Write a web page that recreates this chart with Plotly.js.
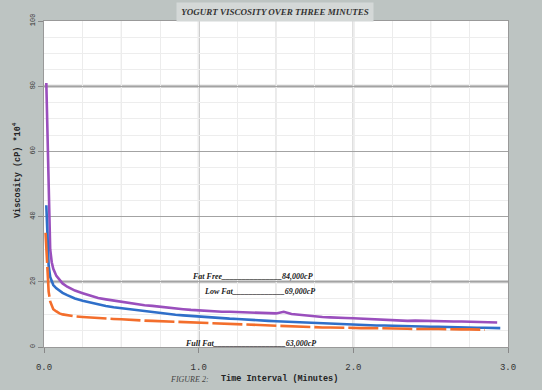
<!DOCTYPE html>
<html>
<head>
<meta charset="utf-8">
<script src="https://cdn.plot.ly/plotly-3.0.1.min.js"></script>
<style>html,body{margin:0;padding:0;background:#bdc4c2;}#chart{width:542px;height:390px;}</style>
</head>
<body>
<div id="chart"></div>
<script>
// Fat Free (purple)
const fatFreeTime = [0.015,0.02,0.025,0.03,0.04,0.05,0.06,0.08,0.1,0.12,0.15,0.2,0.25,0.3,0.35,0.4,0.45,0.5,0.55,0.6,0.65,0.7,0.75,0.8,0.85,0.9,0.95,1.0,1.05,1.1,1.15,1.2,1.25,1.3,1.35,1.4,1.45,1.5,1.55,1.58,1.6,1.65,1.7,1.75,1.8,1.85,1.9,1.95,2.0,2.05,2.1,2.15,2.2,2.25,2.3,2.35,2.4,2.45,2.5,2.55,2.6,2.65,2.7,2.75,2.8,2.85,2.9,2.93];
const fatFreeVisc = [81,70,55,42,30,26,24,21.8,20.5,19.5,18.5,17.3,16.5,15.8,15.0,14.6,14.2,13.8,13.4,13.0,12.8,12.6,12.3,12.1,11.8,11.6,11.4,11.2,11.1,11.0,10.8,10.8,10.7,10.6,10.5,10.4,10.4,10.3,10.8,10.4,10.1,9.9,9.6,9.4,9.2,9.1,8.9,8.9,8.8,8.7,8.5,8.3,8.2,8.2,8.1,8.0,8.1,8.0,7.9,7.8,7.9,7.8,7.8,7.7,7.8,7.6,7.6,7.5];

// Low Fat (blue)
const lowFatTime = [0.015,0.02,0.025,0.03,0.04,0.05,0.06,0.08,0.1,0.12,0.15,0.2,0.25,0.3,0.35,0.4,0.45,0.5,0.55,0.6,0.65,0.7,0.75,0.8,0.85,0.9,0.95,1.0,1.05,1.1,1.15,1.2,1.25,1.3,1.35,1.4,1.45,1.5,1.55,1.6,1.65,1.7,1.75,1.8,1.85,1.9,1.95,2.0,2.05,2.1,2.15,2.2,2.25,2.3,2.35,2.4,2.45,2.5,2.55,2.6,2.65,2.7,2.75,2.8,2.85,2.9,2.95];
const lowFatVisc = [43.5,36,30,25,21.5,20,19,18,17.2,16.6,15.9,14.9,14.2,13.6,13.0,12.6,12.2,11.9,11.5,11.2,10.9,10.6,10.4,10.1,9.9,9.7,9.5,9.3,9.2,9.0,8.9,8.7,8.6,8.4,8.3,8.2,8.0,7.9,7.8,7.6,7.4,7.3,7.2,7.1,7.0,7.0,6.9,6.8,6.8,6.7,6.6,6.6,6.5,6.4,6.4,6.3,6.3,6.2,6.2,6.1,6.1,6.0,6.0,5.9,5.9,5.8,5.8];

// Full Fat (orange)
const fullFatTime = [0.01,0.015,0.02,0.025,0.03,0.04,0.05,0.06,0.08,0.1,0.12,0.15,0.2,0.25,0.3,0.35,0.4,0.45,0.5,0.55,0.6,0.65,0.7,0.75,0.8,0.85,0.9,0.95,1.0,1.05,1.1,1.15,1.2,1.25,1.3,1.35,1.4,1.45,1.5,1.55,1.6,1.65,1.7,1.75,1.8,1.85,1.9,1.95,2.0,2.05,2.1,2.15,2.2,2.25,2.3,2.35,2.4,2.45,2.5,2.55,2.6,2.65,2.7,2.75,2.8,2.85];
const fullFatVisc = [35,30,24,20,17,14,12.5,11.6,10.9,10.3,10.0,9.7,9.4,9.2,9.0,8.9,8.8,8.6,8.5,8.3,8.2,8.1,8.0,7.9,7.8,7.7,7.6,7.5,7.4,7.4,7.3,7.3,7.2,7.1,7.0,6.9,6.8,6.7,6.6,6.5,6.4,6.3,6.2,6.1,6.0,6.0,5.9,5.9,5.8,5.8,5.8,5.8,5.7,5.7,5.6,5.6,5.5,5.6,5.5,5.5,5.4,5.5,5.4,5.4,5.4,5.3];

const xTickVals = [0,1,2,3];
const xTickText = ["0.0","1.0","2.0","3.0"];
const yTickVals = [0,20,40,60,80,100];
const yTickText = ["0","20","40","60","80","100"];

const titleText = "YOGURT VISCOSITY OVER THREE MINUTES";
const labels = [
  {text:"Fat Free_______________84,000cP", x:0.944, y:21.5},
  {text:"Low Fat_____________69,000cP", x:1.02, y:16.9},
  {text:"Full Fat__________________63,000cP", x:0.90, y:1.2}
];

const serif = "Liberation Serif, serif";
const mono = "Liberation Mono, DejaVu Sans Mono, monospace";

const traces = [
  {x:fatFreeTime, y:fatFreeVisc, type:'scatter', mode:'lines', name:'Fat Free',
   line:{color:'#9a4fbd', width:2.6}},
  {x:lowFatTime, y:lowFatVisc, type:'scatter', mode:'lines', name:'Low Fat',
   line:{color:'#2f6fc9', width:2.6}},
  {x:fullFatTime, y:fullFatVisc, type:'scatter', mode:'lines', name:'Full Fat',
   line:{color:'#f36e2c', width:2.6, dash:'30px,4px'}}
];

const annotations = labels.map(l => ({
  text:l.text, x:l.x, y:l.y, xref:'x', yref:'y', xanchor:'left', yanchor:'middle',
  showarrow:false, font:{family:serif, size:8, style:'italic', weight:'bold', color:'#222'}
}));
annotations.push({
  text:titleText, xref:'paper', yref:'paper', x:(275-44)/464, y:1, yshift:9,
  xanchor:'center', yanchor:'middle', showarrow:false, bgcolor:'#d4d8d7',
  width:194, height:16, font:{family:serif, size:9, style:'italic', weight:'bold', color:'#333'}
});
annotations.push({
  text:'FIGURE 2:', xref:'paper', yref:'paper', x:(189-44)/464, y:0, yshift:-32,
  xanchor:'center', yanchor:'middle', showarrow:false,
  font:{family:serif, size:8, style:'italic', color:'#444'}
});
annotations.push({
  text:'<b>Time Interval (Minutes)</b>', xref:'paper', yref:'paper', x:(279-44)/464, y:0, yshift:-32,
  xanchor:'center', yanchor:'middle', showarrow:false,
  font:{family:mono, size:8.5, color:'#222'}
});
annotations.push({
  text:'<b>Viscosity (cP) *10<sup>4</sup></b>', xref:'paper', yref:'paper', x:0, xshift:-27, y:(347-170)/326,
  xanchor:'center', yanchor:'middle', showarrow:false, textangle:-90,
  font:{family:mono, size:8.5, color:'#222'}
});

const layout = {
  width:542, height:390,
  margin:{l:44, r:34, t:21, b:43},
  paper_bgcolor:'#bdc4c2', plot_bgcolor:'#ffffff',
  showlegend:false,
  xaxis:{range:[0,3], tickvals:xTickVals, ticktext:xTickText, ticks:'outside', ticklen:5,
    tickcolor:'#888', showline:true, linecolor:'#999', linewidth:1, mirror:true,
    showgrid:false, zeroline:false, ticklabelstandoff:6,
    tickfont:{family:mono, size:9, color:'#333'},
    minor:{dtick:0.25, tick0:0, showgrid:true, gridcolor:'#ececec', gridwidth:1}},
  yaxis:{range:[0,100], tickvals:yTickVals, ticktext:yTickText, ticks:'outside', ticklen:5,
    tickcolor:'#888', showline:true, linecolor:'#999', linewidth:1, mirror:true,
    showgrid:true, gridcolor:'#a3a3a3', gridwidth:1.3, zeroline:false, tickangle:-90,
    tickfont:{family:mono, size:7, color:'#333'},
    minor:{dtick:5, tick0:0, showgrid:true, gridcolor:'#ededed', gridwidth:1}},
  shapes:[
    {type:'line', xref:'paper', yref:'y', x0:0, x1:1, y0:80, y1:80, line:{color:'#c2c2c2', width:3}, layer:'below'},
    {type:'line', xref:'paper', yref:'y', x0:0, x1:1, y0:20, y1:20, line:{color:'#c2c2c2', width:3}, layer:'below'},
    {type:'line', xref:'x', yref:'paper', x0:1, x1:1, y0:0, y1:1, line:{color:'#8a8a8a', width:1.5}, layer:'below'},
    {type:'line', xref:'x', yref:'paper', x0:2, x1:2, y0:0, y1:1, line:{color:'#cfcfcf', width:2}, layer:'below'},
    {type:'line', xref:'x', yref:'paper', x0:0.5, x1:0.5, y0:0, y1:1, line:{color:'#e2e2e2', width:1.2}, layer:'below'},
    {type:'line', xref:'x', yref:'paper', x0:1.5, x1:1.5, y0:0, y1:1, line:{color:'#dcdcdc', width:1.2}, layer:'below'},
    {type:'line', xref:'x', yref:'paper', x0:2.5, x1:2.5, y0:0, y1:1, line:{color:'#dcdcdc', width:1.2}, layer:'below'}
  ],
  annotations:annotations
};

Plotly.newPlot('chart', traces, layout, {staticPlot:true, displayModeBar:false});
</script>
</body>
</html>
